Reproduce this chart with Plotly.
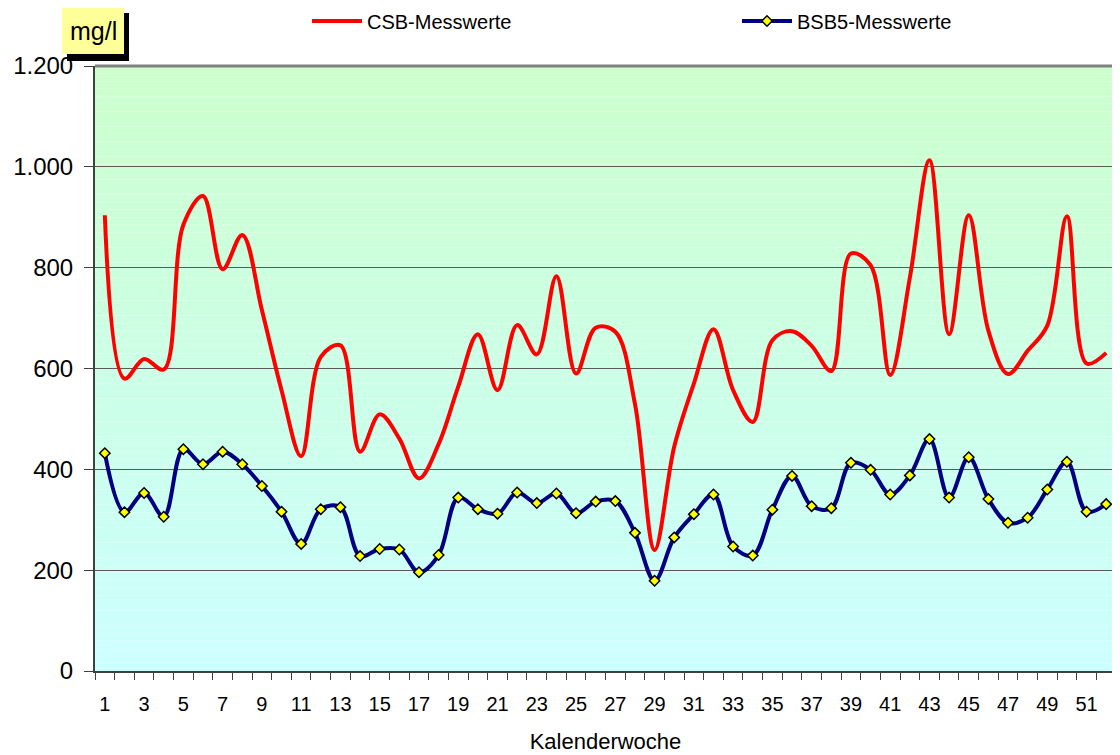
import plotly.graph_objects as go

weeks = list(range(1, 53))

csb = [904, 580, 619, 598, 885, 942, 797, 865, 716, 557,
       426, 623, 646, 435, 509, 461, 382, 450, 564, 668,
       557, 686, 628, 783, 590, 681, 673, 530, 240, 445,
       570, 678, 557, 494, 656, 674, 645, 595, 828, 805,
       587, 780, 1013, 668, 904, 675, 589, 635, 685, 902,
       610, 631]

bsb5 = [432, 315, 353, 306, 440, 410, 435, 410, 367, 316,
        252, 321, 325, 228, 242, 241, 196, 230, 344, 321,
        312, 354, 333, 352, 313, 336, 337, 274, 179, 265,
        311, 350, 247, 229, 320, 387, 327, 323, 413, 399,
        350, 388, 460, 344, 424, 341, 294, 304, 360, 415,
        316, 331]

y_tickvals = [0, 200, 400, 600, 800, 1000, 1200]
y_ticktext = ["0", "200", "400", "600", "800", "1.000", "1.200"]
x_tickvals = list(range(1, 53, 2))
x_ticktext = [str(v) for v in x_tickvals]

FONT = "Liberation Sans"

# page offset (default body margin) and figure size
OFF = 8
FW, FH = 1120 - OFF, 755 - OFF
# plot area in screen pixels
L, R, T, B = 95, 1116, 66, 671
W, H = R - L, B - T


def px(x):
    return (x - L) / W


def py(y):
    return (B - y) / H


fig = go.Figure()

fig.add_trace(go.Scatter(
    x=weeks, y=csb, name="CSB-Messwerte", mode="lines", legend="legend",
    line=dict(color="#FF0000", width=4, shape="spline", smoothing=1.0),
))
fig.add_trace(go.Scatter(
    x=weeks, y=bsb5, name="BSB5-Messwerte", mode="lines+markers", legend="legend2",
    line=dict(color="#000080", width=4, shape="spline", smoothing=1.0),
    marker=dict(symbol="diamond", size=8, color="#FFFF00",
                line=dict(color="#000000", width=1.5)),
))

shapes = []
n = 80
top = (204, 255, 204)
bot = (204, 255, 255)
for i in range(n):
    t = (i + 0.5) / n
    c = tuple(round(bot[k] + (top[k] - bot[k]) * t) for k in range(3))
    shapes.append(dict(type="rect", xref="x domain", yref="y domain",
                       x0=0, x1=1, y0=i / n, y1=(i + 1) / n,
                       fillcolor="rgb(%d,%d,%d)" % c, line=dict(width=0),
                       layer="below"))
shapes.append(dict(type="line", xref="paper", yref="paper", x0=0, x1=1, y0=1, y1=1,
                   line=dict(color="#808080", width=3)))
shapes.append(dict(type="line", xref="paper", yref="paper", x0=1, x1=1, y0=0, y1=1,
                   line=dict(color="#808080", width=3)))
shapes.append(dict(type="rect", xref="paper", yref="paper",
                   x0=px(67), x1=px(129), y0=py(61), y1=py(13),
                   fillcolor="#000000", line=dict(width=0)))
shapes.append(dict(type="rect", xref="paper", yref="paper",
                   x0=px(62), x1=px(124), y0=py(54), y1=py(7),
                   fillcolor="#FFFF99", line=dict(width=0)))

leg_common = dict(orientation="h", yanchor="middle", xanchor="left",
                  font=dict(size=20, family=FONT), bgcolor="rgba(0,0,0,0)",
                  borderwidth=0, itemwidth=50)

fig.update_layout(
    width=FW, height=FH,
    margin=dict(l=L - OFF, r=FW - (R - OFF), t=T - OFF, b=FH - (B - OFF), autoexpand=False),
    paper_bgcolor="white",
    plot_bgcolor="rgba(0,0,0,0)",
    font=dict(family=FONT, color="#000000"),
    shapes=shapes,
    showlegend=True,
    legend=dict(x=px(307), y=py(21), **leg_common),
    legend2=dict(x=px(737), y=py(21), **leg_common),
    annotations=[dict(text="mg/l", xref="paper", yref="paper",
                      x=px(93), y=py(31), xanchor="center", yanchor="middle",
                      showarrow=False, font=dict(size=25, family=FONT, color="#000000"))],
    xaxis=dict(
        range=[0.5, 52.5], tickvals=x_tickvals, ticktext=x_ticktext,
        ticks="", tickfont=dict(size=20, family=FONT), automargin=False,
        ticklabelstandoff=14,
        showgrid=False, zeroline=False, showline=True, linecolor="#404040", linewidth=2,
        minor=dict(tickvals=[w + 0.5 for w in range(0, 53)], ticks="outside",
                   ticklen=7, tickcolor="#404040", tickwidth=1, showgrid=False),
        title=dict(text="Kalenderwoche", font=dict(size=22, family=FONT), standoff=20),
        fixedrange=True,
    ),
    yaxis=dict(
        range=[0, 1200], tickvals=y_tickvals, ticktext=y_ticktext, automargin=False,
        ticks="outside", ticklen=9, tickcolor="#404040", tickwidth=1,
        ticklabelstandoff=6,
        tickfont=dict(size=24, family=FONT),
        showgrid=True, gridcolor="#5a5a5a", gridwidth=1,
        zeroline=False, showline=True, linecolor="#404040", linewidth=2,
        fixedrange=True,
    ),
)

fig.write_html("out.html")
